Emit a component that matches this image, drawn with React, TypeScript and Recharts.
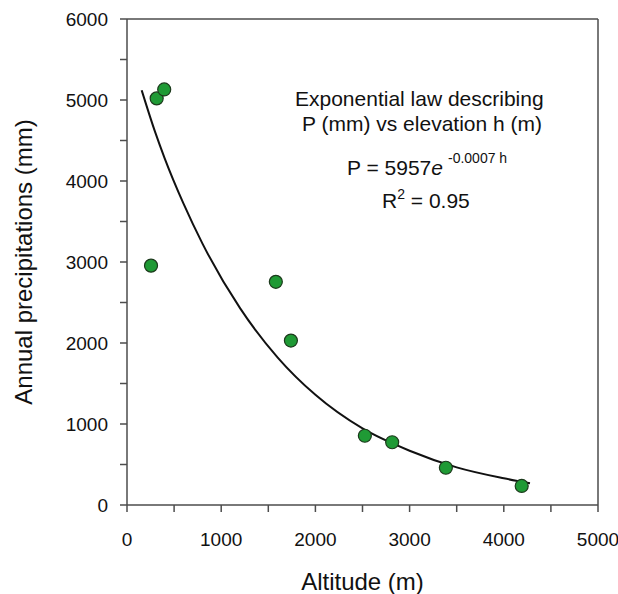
import React from 'react';
import {
  ComposedChart, Scatter, Line, XAxis, YAxis, ReferenceLine,
} from 'recharts';

// Observed stations: altitude (m) → annual precipitation (mm)
const altitude = [255, 315, 395, 1580, 1740, 2525, 2815, 3385, 4190];
const precip = [2955, 5020, 5130, 2755, 2030, 855, 775, 460, 235];

// Fitted exponential curve
const fitH = [156, 300, 400, 600, 800, 1200, 1600, 2000, 2500, 3000, 3500, 4000, 4278];
const fitP = [5120, 4600, 4280, 3720, 3230, 2430, 1820, 1360, 945, 670, 465, 330, 268];

const xTicks = [0, 500, 1000, 1500, 2000, 2500, 3000, 3500, 4000, 4500, 5000];
const yTicks = [0, 500, 1000, 1500, 2000, 2500, 3000, 3500, 4000, 4500, 5000, 5500, 6000];

const FONT = '"Liberation Sans", Arial, sans-serif';
const AXIS = '#4d4d4d';

const points = altitude.map((h, i) => ({ h, p: precip[i] }));
const curve = fitH.map((h, i) => ({ h, p: fitP[i] }));

const majorOnly = (v: number) => (v % 1000 === 0 ? String(v) : '');

function Dot(props: any) {
  const { cx, cy } = props;
  if (cx == null || cy == null) return null;
  return <circle cx={cx} cy={cy} r={6.5} fill="#1f9a35" stroke="#1c3a1c" strokeWidth={1.2} />;
}

const textLine: React.CSSProperties = {
  position: 'absolute',
  fontFamily: FONT,
  fontSize: 21,
  lineHeight: '21px',
  color: '#111',
  whiteSpace: 'nowrap',
};

export default function App() {
  return (
    <div style={{ position: 'absolute', left: 0, top: 0, width: 618, height: 594, background: '#fff' }}>
      <ComposedChart
        width={618}
        height={594}
        margin={{ top: 19, right: 20, bottom: 0, left: 0 }}
        style={{ fontFamily: FONT }}
      >
        <XAxis
          type="number"
          dataKey="h"
          domain={[0, 5000]}
          ticks={xTicks}
          tickFormatter={majorOnly}
          height={89}
          tickSize={7}
          tickMargin={21}
          tick={{ fontSize: 19, fill: '#111' }}
          axisLine={{ stroke: AXIS, strokeWidth: 1.5 }}
          tickLine={{ stroke: AXIS, strokeWidth: 1.5 }}
          label={{ value: 'Altitude (m)', position: 'center', dy: 32, fontSize: 24, fill: '#111' }}
        />
        <YAxis
          type="number"
          dataKey="p"
          domain={[0, 6000]}
          ticks={yTicks}
          tickFormatter={majorOnly}
          width={127}
          tickSize={7}
          tickMargin={12}
          tick={{ fontSize: 19, fill: '#111' }}
          axisLine={{ stroke: AXIS, strokeWidth: 1.5 }}
          tickLine={{ stroke: AXIS, strokeWidth: 1.5 }}
          label={{ value: 'Annual precipitations (mm)', angle: -90, position: 'center', dx: -40, fontSize: 24, fill: '#111' }}
        />
        <ReferenceLine y={6000} stroke={AXIS} strokeWidth={1.5} />
        <ReferenceLine x={5000} stroke={AXIS} strokeWidth={1.5} />
        <Line
          data={curve}
          dataKey="p"
          type="monotone"
          stroke="#111"
          strokeWidth={2}
          dot={false}
          activeDot={false}
          isAnimationActive={false}
        />
        <Scatter data={points} dataKey="p" shape={Dot} isAnimationActive={false} />
      </ComposedChart>

      <div style={{ ...textLine, left: 295, top: 88 }}>Exponential law describing</div>
      <div style={{ ...textLine, left: 302, top: 113 }}>P (mm) vs elevation h (m)</div>
      <div style={{ ...textLine, left: 347, top: 157 }}>
        P = 5957<i>e</i>
        <span style={{ fontSize: 14, position: 'relative', top: -12, marginLeft: 5 }}>-0.0007 h</span>
      </div>
      <div style={{ ...textLine, left: 382, top: 190 }}>
        R<span style={{ fontSize: 14, position: 'relative', top: -9 }}>2</span> = 0.95
      </div>
    </div>
  );
}
